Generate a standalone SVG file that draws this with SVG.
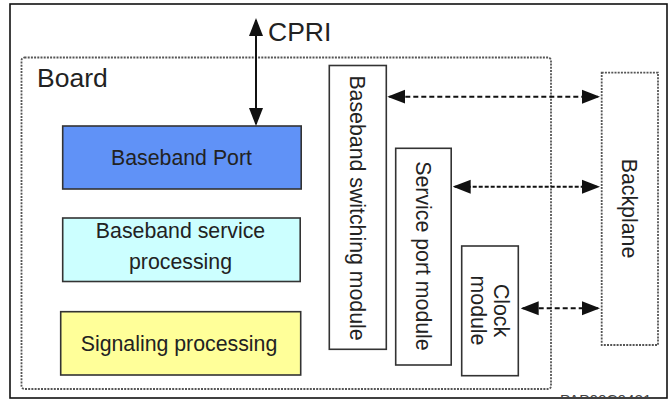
<svg xmlns="http://www.w3.org/2000/svg" width="671" height="402" viewBox="0 0 671 402">
<style>
text{font-family:"Liberation Sans",Arial,sans-serif;fill:#222}
.lbl{font-size:21.3px;text-anchor:middle}
.big{font-size:26.5px}
.box{stroke:#333;stroke-width:1.6}
.dot{fill:none;stroke:#555;stroke-width:1.8;stroke-dasharray:2 1.2}
.conn{stroke:#111;stroke-width:2;fill:none;marker-start:url(#ah);marker-end:url(#ah)}
.dash{stroke-dasharray:5 3}
.dash2{stroke-dasharray:4 2}
</style>
<defs>
<marker id="ah" markerUnits="userSpaceOnUse" markerWidth="18" markerHeight="15" viewBox="0 0 18 15" refX="16" refY="7.5" orient="auto-start-reverse">
<path d="M0,0.5 L18,7.5 L0,14.5 Z" fill="#111"/>
</marker>
<clipPath id="clipBottom"><rect x="0" y="0" width="671" height="398"/></clipPath>
</defs>
<rect x="0" y="0" width="671" height="402" fill="#fff"/>
<rect id="frame" x="10" y="4" width="657" height="394" fill="none" stroke="#111" stroke-width="1.6"/>

<g id="board">
<rect class="dot" x="21.5" y="57.5" width="529.5" height="331.5" rx="3"/>
<text class="big" x="37" y="87">Board</text>
</g>

<g id="baseband-port">
<rect class="box" x="62.7" y="126" width="238.5" height="63" fill="#6092f7"/>
<text class="lbl" x="181.5" y="165">Baseband Port</text>
</g>

<g id="baseband-service">
<rect class="box" x="62.7" y="218" width="237.5" height="63.5" fill="#ccffff"/>
<text class="lbl" x="180.5" y="238">Baseband service</text>
<text class="lbl" x="180.5" y="268.5">processing</text>
</g>

<g id="signaling">
<rect class="box" x="60.7" y="311.7" width="240" height="63.3" fill="#ffff99"/>
<text class="lbl" x="179" y="350.7">Signaling processing</text>
</g>

<g id="switching">
<rect class="box" x="329.3" y="65.5" width="57" height="283.8" fill="#fff"/>
<text class="lbl" transform="translate(357.8,208) rotate(90)" y="7.7">Baseband switching module</text>
</g>

<g id="service-port">
<rect class="box" x="395.7" y="148.3" width="55.5" height="216.7" fill="#fff"/>
<text class="lbl" transform="translate(423.5,256) rotate(90)" y="7.7">Service port module</text>
</g>

<g id="clock">
<rect class="box" x="461.7" y="246" width="56.6" height="129.7" fill="#fff"/>
<text class="lbl" transform="translate(490,310.5) rotate(90)"><tspan x="0" y="-3.5">Clock</tspan><tspan x="0" y="19.5">module</tspan></text>
</g>

<g id="backplane">
<rect class="dot" x="601.7" y="72.7" width="56.3" height="272.3"/>
<text class="lbl" transform="translate(630,208.5) rotate(90)" y="7.7">Backplane</text>
</g>

<g id="cpri">
<text class="big" x="268" y="41">CPRI</text>
</g>

<g id="connectors">
<line class="conn" x1="256" y1="20" x2="256" y2="124"/>
<line class="conn dash" x1="389.3" y1="96.7" x2="598" y2="96.7"/>
<line class="conn dash2" x1="454.7" y1="186.7" x2="598" y2="186.7"/>
<line class="conn dash" x1="522.7" y1="308.3" x2="598" y2="308.3"/>
</g>

<g id="figure-id" clip-path="url(#clipBottom)">
<text x="560" y="404.5" style="font-size:15.3px;fill:#444">PAP00C0421</text>
</g>
</svg>
